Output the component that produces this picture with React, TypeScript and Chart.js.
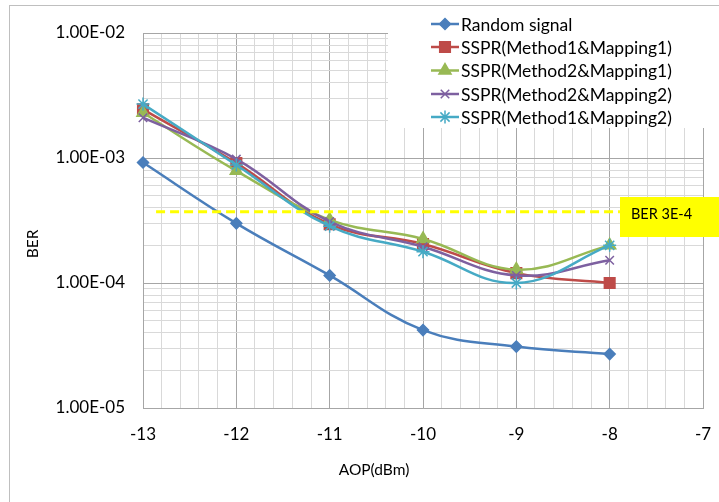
import React, { useEffect, useRef } from 'react';
import { Chart, registerables } from 'chart.js';
import { drawPoint } from 'chart.js/helpers';

Chart.register(...registerables);

// ---- data ----
const aop = [-13, -12, -11, -10, -9, -8];
const randomSignal = [9.2e-4, 3.0e-4, 1.15e-4, 4.2e-5, 3.1e-5, 2.7e-5];
const sspr_m1map1 = [2.45e-3, 9.1e-4, 2.95e-4, 2.05e-4, 1.2e-4, 1.0e-4];
const sspr_m2map1 = [2.3e-3, 7.9e-4, 3.2e-4, 2.25e-4, 1.28e-4, 2.0e-4];
const sspr_m2map2 = [2.1e-3, 9.8e-4, 3.1e-4, 1.95e-4, 1.15e-4, 1.52e-4];
const sspr_m1map2 = [2.7e-3, 8.8e-4, 2.85e-4, 1.78e-4, 1.0e-4, 2.0e-4];

const seriesNames = [
  'Random signal',
  'SSPR(Method1&Mapping1)',
  'SSPR(Method2&Mapping1)',
  'SSPR(Method2&Mapping2)',
  'SSPR(Method1&Mapping2)',
];
const seriesValues = [randomSignal, sspr_m1map1, sspr_m2map1, sspr_m2map2, sspr_m1map2];
const seriesColors = ['#4a7ebb', '#be4b48', '#98b954', '#7d60a0', '#46aac5'];
const seriesMarkers = ['rectRot', 'rect', 'triangle', 'crossRot', 'star'];
const markerRadius = [5.5, 7.5, 7, 6, 6.5];

const thresholdX = [-12.86, -7.89];
const thresholdY = [3.72e-4, 3.72e-4];
const thresholdLabel = 'BER 3E-4';

const yMajorTicks = [1e-5, 1e-4, 1e-3, 1e-2];
const yTickLabels = ['1.00E-05', '1.00E-04', '1.00E-03', '1.00E-02'];
const xMin = -13;
const xMax = -7;
const xStep = 0.2;

const xTitle = 'AOP(dBm)';
const yTitle = 'BER';

const FONT = 'Lato, "Open Sans", sans-serif';

const isPow10 = (v: number) => Math.abs(Math.log10(v) - Math.round(Math.log10(v))) < 1e-9;
const isInt = (v: number) => Math.abs(v - Math.round(v)) < 1e-6;

const decorPlugin = {
  id: 'decor',
  beforeDraw(chart: any) {
    const ctx = chart.ctx;
    ctx.save();
    ctx.fillStyle = '#ffffff';
    ctx.fillRect(0, 0, chart.width, chart.height);
    ctx.strokeStyle = '#bfbfbf';
    ctx.lineWidth = 1;
    ctx.strokeRect(9.5, 5.5, 2000, 2000);
    ctx.restore();
  },
  afterDraw(chart: any) {
    const ctx = chart.ctx;
    ctx.save();
    // legend
    ctx.fillStyle = '#ffffff';
    ctx.fillRect(388, 7, 330, 121);
    const rows = [24, 47, 70.5, 94, 117];
    seriesNames.forEach((name, i) => {
      const y = rows[i];
      ctx.strokeStyle = seriesColors[i];
      ctx.lineWidth = 2.5;
      ctx.beginPath();
      ctx.moveTo(431, y);
      ctx.lineTo(459, y);
      ctx.stroke();
      ctx.fillStyle = seriesColors[i];
      ctx.strokeStyle = seriesColors[i];
      ctx.lineWidth = 1.5;
      drawPoint(ctx, { pointStyle: seriesMarkers[i], radius: markerRadius[i], rotation: 0, borderWidth: 1.5 }, 445, y);
      ctx.fillStyle = '#000000';
      ctx.font = '17.5px ' + FONT;
      ctx.textAlign = 'left';
      ctx.textBaseline = 'middle';
      ctx.fillText(name, 461, y + 1);
    });
    // threshold box
    ctx.fillStyle = '#ffff00';
    ctx.fillRect(620, 197, 99, 40);
    ctx.fillStyle = '#000000';
    ctx.font = '14.5px ' + FONT;
    ctx.textAlign = 'left';
    ctx.textBaseline = 'middle';
    ctx.fillText(thresholdLabel, 631, 214);
    // axis titles
    ctx.font = '15.5px ' + FONT;
    ctx.textAlign = 'center';
    ctx.textBaseline = 'middle';
    ctx.fillText(xTitle, 374, 470);
    ctx.translate(33, 244);
    ctx.rotate(-Math.PI / 2);
    ctx.fillText(yTitle, 0, 0);
    ctx.restore();
  },
};

export default function App() {
  const ref = useRef<HTMLCanvasElement>(null);
  useEffect(() => {
    if (!ref.current) return;
    const datasets: any[] = seriesNames.map((name, i) => ({
      label: name,
      data: aop.map((x, j) => ({ x, y: seriesValues[i][j] })),
      borderColor: seriesColors[i],
      backgroundColor: seriesColors[i],
      borderWidth: 2.5,
      pointStyle: seriesMarkers[i],
      pointRadius: markerRadius[i],
      pointBorderWidth: 1.5,
      pointBorderColor: seriesColors[i],
      pointBackgroundColor: seriesColors[i],
      tension: 0.4,
      clip: false,
      order: 10 - i,
    }));
    datasets.push({
      label: thresholdLabel,
      data: thresholdX.map((x, j) => ({ x, y: thresholdY[j] })),
      borderColor: '#ffff00',
      borderWidth: 3,
      borderDash: [9, 5],
      pointRadius: 0,
      order: 0,
    });
    const chart = new Chart(ref.current, {
      type: 'line',
      data: { datasets },
      plugins: [decorPlugin],
      options: {
        animation: false,
        responsive: false,
        layout: { padding: { top: 33, right: 16, left: 0, bottom: 0 } },
        plugins: { legend: { display: false }, tooltip: { enabled: false } },
        scales: {
          x: {
            type: 'linear',
            min: xMin,
            max: xMax,
            afterBuildTicks: (scale: any) => {
              const ticks = [];
              const n = Math.round((xMax - xMin) / xStep);
              for (let k = 0; k <= n; k++) ticks.push({ value: Math.round((xMin + k * xStep) * 1000) / 1000 });
              scale.ticks = ticks;
            },
            afterFit: (scale: any) => {
              scale.height = 94;
              scale.paddingLeft = 0;
              scale.paddingRight = 0;
            },
            grid: {
              drawTicks: false,
              color: (c: any) => (isInt(c.tick.value) ? '#a6a6a6' : '#d9d9d9'),
              lineWidth: 1,
            },
            border: { display: true, color: '#a6a6a6' },
            ticks: {
              autoSkip: false,
              maxRotation: 0,
              padding: 16,
              color: '#000000',
              font: { family: FONT, size: 17 },
              callback: (v: any) => (isInt(Number(v)) ? String(Math.round(Number(v))) : ''),
            },
          },
          y: {
            type: 'logarithmic',
            min: 1e-5,
            max: 1e-2,
            afterBuildTicks: (scale: any) => {
              const ticks = [];
              for (let d = 0; d < yMajorTicks.length - 1; d++) {
                for (let m = 1; m <= 9; m++) ticks.push({ value: yMajorTicks[d] * m });
              }
              ticks.push({ value: yMajorTicks[yMajorTicks.length - 1] });
              scale.ticks = ticks;
            },
            afterFit: (scale: any) => {
              scale.width = 143;
              scale.paddingTop = 0;
              scale.paddingBottom = 0;
            },
            grid: {
              drawTicks: false,
              color: (c: any) => (isPow10(c.tick.value) ? '#a6a6a6' : '#d9d9d9'),
              lineWidth: 1,
            },
            border: { display: true, color: '#a6a6a6' },
            ticks: {
              autoSkip: false,
              padding: 18,
              color: '#000000',
              font: { family: FONT, size: 17 },
              callback: (v: any) => {
                const val = Number(v);
                const idx = yMajorTicks.findIndex((t) => Math.abs(Math.log10(t) - Math.log10(val)) < 1e-9);
                return idx >= 0 ? yTickLabels[idx] : '';
              },
            },
          },
        },
      },
    });
    return () => chart.destroy();
  }, []);
  return (
    <div style={{ position: 'fixed', left: 0, top: 0, width: 719, height: 502 }}>
      <canvas ref={ref} width={719} height={502} style={{ display: 'block' }} />
    </div>
  );
}
